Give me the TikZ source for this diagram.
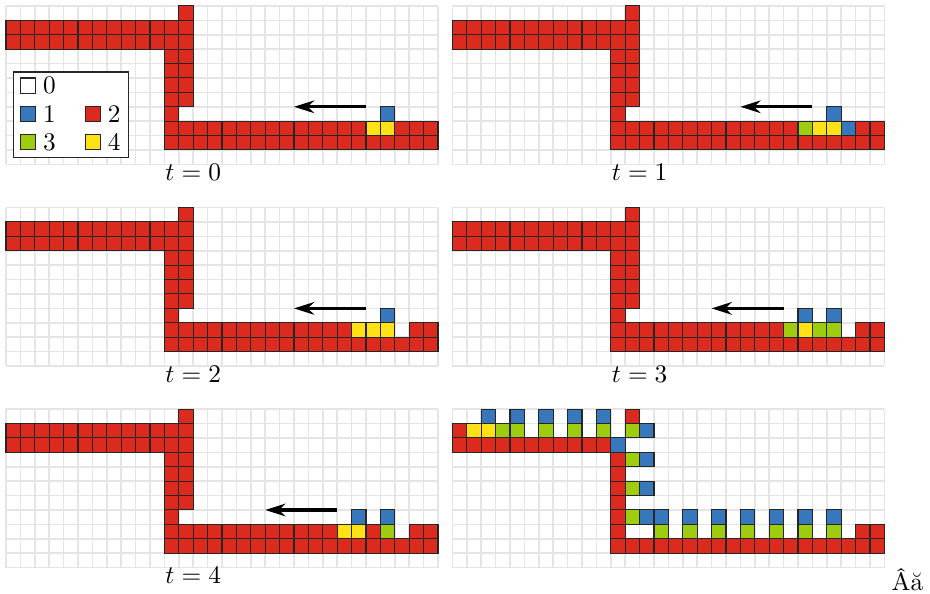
\documentclass[tikz,border=0pt]{standalone}
\usepackage{amsmath,amssymb}
\usepackage{tikz}
\usetikzlibrary{arrows.meta,positioning}

\definecolor{cred}{RGB}{221,42,30}
\definecolor{cblue}{RGB}{55,120,189}
\definecolor{cgreen}{RGB}{158,205,15}
\definecolor{cyellow}{RGB}{255,226,22}

\newcommand\cells[3]{\foreach \x in {#2} {\draw[cell,fill=#3] (\x,-#1) rectangle ++(1,-1);}}
\newcommand\track{%
  \draw[board] (0,0) grid (30,-11);
  \cells{0}{12}{cred}
  \cells{1}{0,...,12}{cred}
  \cells{2}{0,...,12}{cred}
  \foreach \y in {3,...,6} {\cells{\y}{11,12}{cred}}
  \cells{7}{11}{cred}
  \cells{9}{11,...,29}{cred}}

\begin{document}
\begin{tikzpicture}[x=0.2cm, y=0.2cm, >={Stealth[length=8pt,width=5pt]},
  board/.style={draw=black!10, line width=0.6pt, step=1},
  cell/.style={draw=black!85, line width=0.4pt},
  keybox/.style={draw=black!85, line width=0.45pt, minimum size=0.21cm, inner sep=0pt},
  keylabel/.style={inner sep=2.5pt}]
\useasboundingbox (-0.4167,0.4167) rectangle (64.167,-40.833);

\track
\cells{8}{11,...,24,27,28,29}{cred}
\cells{8}{25,26}{cyellow}
\cells{7}{26}{cblue}
\draw[->, line width=1.2pt] (25,-7) -- (20,-7);
\node (t0) at (13,-11.55) {$t = 0$};
\node[draw=black!85, line width=0.5pt, fill=white, minimum width=1.594cm, minimum height=1.19cm, inner sep=0pt] (key) at (4.53,-7.55) {};
\node[keybox,fill=white] (k0) at (1.54,-5.53) {};
\node[keybox,fill=cblue] (k1) at (1.54,-7.5) {};
\node[keybox,fill=cred] (k2) at (6.03,-7.5) {};
\node[keybox,fill=cgreen] (k3) at (1.54,-9.45) {};
\node[keybox,fill=cyellow] (k4) at (6.03,-9.45) {};
\node[keylabel, right=0pt of k0] (l0) {0};
\node[keylabel, right=0pt of k1] (l1) {1};
\node[keylabel, right=0pt of k2] (l2) {2};
\node[keylabel, right=0pt of k3] (l3) {3};
\node[keylabel, right=0pt of k4] (l4) {4};

\begin{scope}[shift={(31,0)}]
\track
\cells{8}{11,...,23,28,29}{cred}
\cells{8}{24}{cgreen}
\cells{8}{25,26}{cyellow}
\cells{8}{27}{cblue}
\cells{7}{26}{cblue}
\draw[->, line width=1.2pt] (25,-7) -- (20,-7);
\node (t1) at (13,-11.55) {$t = 1$};
\end{scope}

\begin{scope}[shift={(0,-14)}]
\track
\cells{8}{11,...,23,28,29}{cred}
\cells{8}{24,25,26}{cyellow}
\cells{7}{26}{cblue}
\draw[->, line width=1.2pt] (25,-7) -- (20,-7);
\node (t2) at (13,-11.55) {$t = 2$};
\end{scope}

\begin{scope}[shift={(31,-14)}]
\track
\cells{8}{11,...,22,28,29}{cred}
\cells{8}{23,25,26}{cgreen}
\cells{8}{24}{cyellow}
\cells{7}{24,26}{cblue}
\draw[->, line width=1.2pt] (23,-7) -- (18,-7);
\node (t3) at (13,-11.55) {$t = 3$};
\end{scope}

\begin{scope}[shift={(0,-28)}]
\track
\cells{8}{11,...,22,25,28,29}{cred}
\cells{8}{23,24}{cyellow}
\cells{8}{26}{cgreen}
\cells{7}{24,26}{cblue}
\draw[->, line width=1.2pt] (23,-7) -- (18,-7);
\node (t4) at (13,-11.55) {$t = 4$};
\end{scope}

\begin{scope}[shift={(31,-28)}]
\draw[board] (0,0) grid (30,-11);
\cells{0}{2,4,6,8,10}{cblue}
\cells{0}{12}{cred}
\cells{1}{0}{cred}
\cells{1}{1,2}{cyellow}
\cells{1}{3,4,6,8,10,12}{cgreen}
\cells{1}{13}{cblue}
\cells{2}{0,...,10}{cred}
\cells{2}{11}{cblue}
\foreach \y in {3,...,9} {\cells{\y}{11}{cred}}
\foreach \y in {3,5,7} {\cells{\y}{12}{cgreen} \cells{\y}{13}{cblue}}
\cells{7}{14,16,...,26}{cblue}
\cells{8}{14,16,...,26}{cgreen}
\cells{8}{28,29}{cred}
\cells{9}{12,...,29}{cred}
\end{scope}

\node (junk) at (62.6,-39.85) {Âă};
\end{tikzpicture}
\end{document}
